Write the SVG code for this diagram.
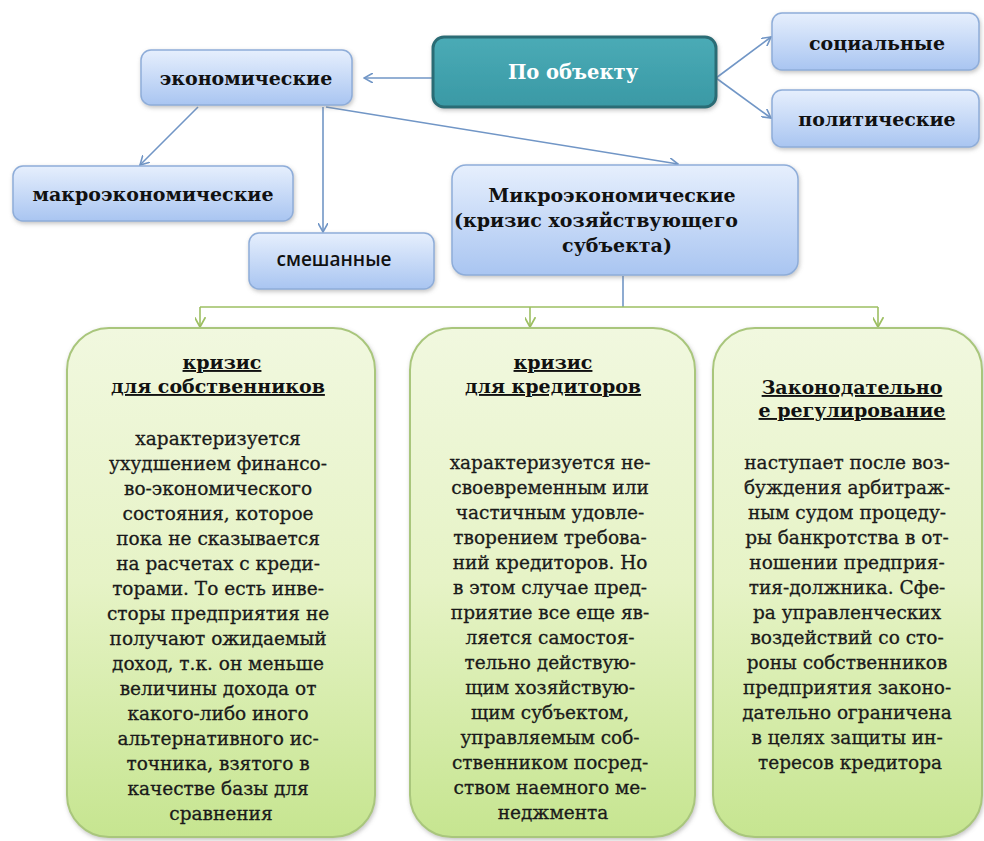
<svg xmlns="http://www.w3.org/2000/svg" width="984" height="841" viewBox="0 0 984 841">
<style>
.lbl{font-family:"DejaVu Serif","Liberation Serif",serif;font-weight:bold;font-size:19px;fill:#111;text-anchor:middle}
.main{font-family:"DejaVu Serif","Liberation Serif",serif;font-weight:bold;font-size:19.5px;fill:#fff;text-anchor:middle}
.sans{font-family:"Open Sans","DejaVu Sans",sans-serif;font-weight:600;font-size:19px;fill:#111;text-anchor:middle}
.ttl{font-family:"DejaVu Serif","Liberation Serif",serif;font-weight:bold;font-size:19px;fill:#111;text-anchor:middle;text-decoration:underline}
.body{font-family:"DejaVu Serif","Liberation Serif",serif;font-size:18.5px;fill:#1a1a1a;stroke:#1a1a1a;stroke-width:0.3;text-anchor:middle}
.blue{fill:url(#gb);stroke:#8eadd9;stroke-width:1.5;filter:url(#sh)}
.green{fill:url(#gg);stroke:#a9c67c;stroke-width:2;filter:url(#sh)}
.cb{fill:none;stroke:#7196c6;stroke-width:1.6;marker-end:url(#ab)}
.cg{fill:none;stroke:#9dbf62;stroke-width:1.6}
.cga{fill:none;stroke:#9dbf62;stroke-width:1.6;marker-end:url(#ag)}
</style>
<defs>
<linearGradient id="gb" x1="0" y1="0" x2="0" y2="1"><stop offset="0" stop-color="#e6effd"/><stop offset="1" stop-color="#a9c5f1"/></linearGradient>
<linearGradient id="gg" x1="0" y1="0" x2="0" y2="1"><stop offset="0" stop-color="#f1f8df"/><stop offset="0.5" stop-color="#e6f3c6"/><stop offset="1" stop-color="#c6e590"/></linearGradient>
<linearGradient id="gt" x1="0" y1="0" x2="0" y2="1"><stop offset="0" stop-color="#4aabb6"/><stop offset="1" stop-color="#3a99a5"/></linearGradient>
<filter id="sh" x="-10%" y="-10%" width="120%" height="130%"><feDropShadow dx="1" dy="2" stdDeviation="2" flood-color="#7a7a7a" flood-opacity="0.45"/></filter>
<marker id="ab" viewBox="0 0 10 10" refX="9" refY="5" markerWidth="10" markerHeight="10" markerUnits="userSpaceOnUse" orient="auto"><path d="M0,0 L9,5 L0,10" fill="none" stroke="#7196c6" stroke-width="1.6"/></marker>
<marker id="ag" viewBox="0 0 10 10" refX="9" refY="5" markerWidth="11" markerHeight="11" markerUnits="userSpaceOnUse" orient="auto"><path d="M0,0 L9,5 L0,10" fill="none" stroke="#9dbf62" stroke-width="1.6"/></marker>
</defs>
<rect width="984" height="841" fill="#fff"/>

<g id="connectors">
<line class="cb" x1="433" y1="78" x2="364" y2="78"/>
<line class="cb" x1="716" y1="78" x2="771" y2="37"/>
<line class="cb" x1="716" y1="78" x2="771" y2="118"/>
<line class="cb" x1="198" y1="107" x2="140" y2="165"/>
<line class="cb" x1="323" y1="107" x2="323" y2="232"/>
<line class="cb" x1="326" y1="107" x2="678" y2="164"/>
<line x1="623" y1="276" x2="623" y2="307" stroke="#7196c6" stroke-width="1.6"/>
<line class="cg" x1="200" y1="307" x2="878" y2="307"/>
<line class="cga" x1="200" y1="307" x2="200" y2="327"/>
<line class="cga" x1="530" y1="307" x2="530" y2="327"/>
<line class="cga" x1="878" y1="307" x2="878" y2="327"/>
</g>

<g id="po-obektu">
<rect x="433" y="37" width="283" height="70" rx="11" fill="url(#gt)" stroke="#2b6c75" stroke-width="3" filter="url(#sh)"/>
<text class="main" x="573" y="79">По объекту</text>
</g>
<g id="ekonomicheskie">
<rect class="blue" x="141" y="50" width="211" height="55" rx="10"/>
<text class="lbl" x="246" y="85">экономические</text>
</g>
<g id="socialnye">
<rect class="blue" x="772" y="13" width="207" height="57" rx="10"/>
<text class="lbl" x="877" y="50">социальные</text>
</g>
<g id="politicheskie">
<rect class="blue" x="772" y="90" width="207" height="57" rx="10"/>
<text class="lbl" x="877" y="126">политические</text>
</g>
<g id="makro">
<rect class="blue" x="13" y="166" width="280" height="55" rx="10"/>
<text class="lbl" x="153" y="201">макроэкономические</text>
</g>
<g id="smeshannye">
<rect class="blue" x="249" y="233" width="185" height="56" rx="10"/>
<text class="sans" x="334" y="266">смешанные</text>
</g>
<g id="mikro">
<rect class="blue" x="452" y="165" width="346" height="110" rx="14"/>
<text class="lbl" x="612" y="202" font-size="21.5">Микроэкономические</text>
<text class="lbl" x="596" y="227" font-size="20">(кризис хозяйствующего</text>
<text class="lbl" x="617" y="252" font-size="20">субъекта)</text>
</g>

<g id="box-sobstv">
<rect class="green" x="67" y="328" width="308" height="509" rx="42"/>
<text class="ttl" x="222" y="369">кризис</text>
<text class="ttl" x="218" y="393">для собственников</text>
<text class="body">
<tspan x="221" y="445">характеризуется</tspan>
<tspan x="221" y="470">ухудшением финансо-</tspan>
<tspan x="221" y="495">во-экономического</tspan>
<tspan x="221" y="520">состояния, которое</tspan>
<tspan x="221" y="545">пока не сказывается</tspan>
<tspan x="221" y="570">на расчетах с креди-</tspan>
<tspan x="221" y="595">торами. То есть инве-</tspan>
<tspan x="221" y="620">сторы предприятия не</tspan>
<tspan x="221" y="645">получают ожидаемый</tspan>
<tspan x="221" y="670">доход, т.к. он меньше</tspan>
<tspan x="221" y="695">величины дохода от</tspan>
<tspan x="221" y="720">какого-либо иного</tspan>
<tspan x="221" y="745">альтернативного ис-</tspan>
<tspan x="221" y="770">точника, взятого в</tspan>
<tspan x="221" y="795">качестве базы для</tspan>
<tspan x="221" y="820">сравнения</tspan>
</text>
</g>

<g id="box-kredit">
<rect class="green" x="410" y="328" width="285" height="509" rx="42"/>
<text class="ttl" x="553" y="369">кризис</text>
<text class="ttl" x="553" y="393">для кредиторов</text>
<text class="body">
<tspan x="553" y="469">характеризуется не-</tspan>
<tspan x="553" y="494">своевременным или</tspan>
<tspan x="553" y="519">частичным удовле-</tspan>
<tspan x="553" y="544">творением требова-</tspan>
<tspan x="553" y="569">ний кредиторов. Но</tspan>
<tspan x="553" y="594">в этом случае пред-</tspan>
<tspan x="553" y="619">приятие все еще яв-</tspan>
<tspan x="553" y="644">ляется самостоя-</tspan>
<tspan x="553" y="669">тельно действую-</tspan>
<tspan x="553" y="694">щим хозяйствую-</tspan>
<tspan x="553" y="719">щим субъектом,</tspan>
<tspan x="553" y="744">управляемым соб-</tspan>
<tspan x="553" y="769">ственником посред-</tspan>
<tspan x="553" y="794">ством наемного ме-</tspan>
<tspan x="553" y="819">неджмента</tspan>
</text>
</g>

<g id="box-zakon">
<rect class="green" x="713" y="328" width="269" height="509" rx="42"/>
<text class="ttl" x="852" y="394">Законодательно</text>
<text class="ttl" x="852" y="417">е регулирование</text>
<text class="body">
<tspan x="850" y="469">наступает после воз-</tspan>
<tspan x="850" y="494">буждения арбитраж-</tspan>
<tspan x="850" y="519">ным судом процеду-</tspan>
<tspan x="850" y="544">ры банкротства в от-</tspan>
<tspan x="850" y="569">ношении предприя-</tspan>
<tspan x="850" y="594">тия-должника. Сфе-</tspan>
<tspan x="850" y="619">ра управленческих</tspan>
<tspan x="850" y="644">воздействий со сто-</tspan>
<tspan x="850" y="669">роны собственников</tspan>
<tspan x="850" y="694">предприятия законо-</tspan>
<tspan x="850" y="719">дательно ограничена</tspan>
<tspan x="850" y="744">в целях защиты ин-</tspan>
<tspan x="850" y="769">тересов кредитора</tspan>
</text>
</g>
</svg>
